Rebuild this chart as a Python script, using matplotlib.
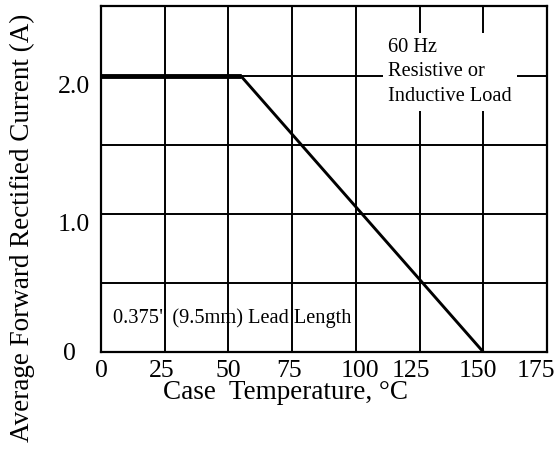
import matplotlib.pyplot as plt
import matplotlib.transforms as mtransforms

# derating curve
case_temp = [0, 55, 150]
avg_current = [2.0, 2.0, 0.0]

x_ticks = [0, 25, 50, 75, 100, 125, 150, 175]
y_ticks = [0, 0.5, 1.0, 1.5, 2.0]
y_tick_labels = ["0", "", "1.0", "", "2.0"]

# small horizontal nudges (pixels) of the x tick labels, as typeset in the original
x_label_nudge = [0, -3, 0, -3, 4, -9, -5, -11]

plt.rcParams["font.family"] = ["Liberation Serif", "DejaVu Serif"]

fig = plt.figure(figsize=(5.6, 4.5), dpi=100)
ax = fig.add_axes([0.1804, 0.2178, 0.7964, 0.7689])

ax.set_xlim(0, 175)
ax.set_ylim(0, 2.51)
ax.set_xticks(x_ticks)
ax.set_xticklabels([str(t) for t in x_ticks], fontsize=18.5)
ax.set_yticks(y_ticks)
ax.set_yticklabels(y_tick_labels, fontsize=18.5)
ax.tick_params(length=0)
ax.tick_params(axis="x", pad=5.5)
ax.tick_params(axis="y", pad=8)

for lbl, dx in zip(ax.get_xticklabels(), x_label_nudge):
    lbl.set_transform(lbl.get_transform() + mtransforms.ScaledTranslation(dx / 100, 0, fig.dpi_scale_trans))

ylbls = ax.get_yticklabels()
# 1.0 and 2.0 sit just under their grid line in the original
for lbl in ylbls[1:]:
    lbl.set_verticalalignment("top")
ylbls[0].set_transform(ylbls[0].get_transform() + mtransforms.ScaledTranslation(-0.14, 0, fig.dpi_scale_trans))

ax.grid(True, color="black", lw=1.4)
ax.set_axisbelow(True)
for s in ax.spines.values():
    s.set_linewidth(1.6)

# flat part drawn heavier than the slope, as in the datasheet
ax.plot(case_temp[:2], avg_current[:2], color="black", lw=3.5, solid_capstyle="butt", zorder=3)
ax.plot(case_temp[1:], avg_current[1:], color="black", lw=2.1, zorder=3)

ax.set_xlabel("Case  Temperature, \u00b0C", fontsize=19.5)
ax.xaxis.set_label_coords(0.413, -0.080)
ax.xaxis.label.set_verticalalignment("top")
ax.set_ylabel("Average Forward Rectified Current (A)", fontsize=19.5)
ax.yaxis.set_label_coords(-0.147, 0.36)

ax.text(112.6, 2.28, "60 Hz\nResistive or\nInductive Load", fontsize=14.7,
        va="top", ha="left", linespacing=1.4, zorder=4,
        bbox=dict(facecolor="white", edgecolor="none", pad=3.5))
ax.text(4.7, 0.247, "0.375\" (9.5mm) Lead Length", fontsize=14.7,
        va="center", ha="left", zorder=4)

fig.savefig("out.png", dpi=100)
